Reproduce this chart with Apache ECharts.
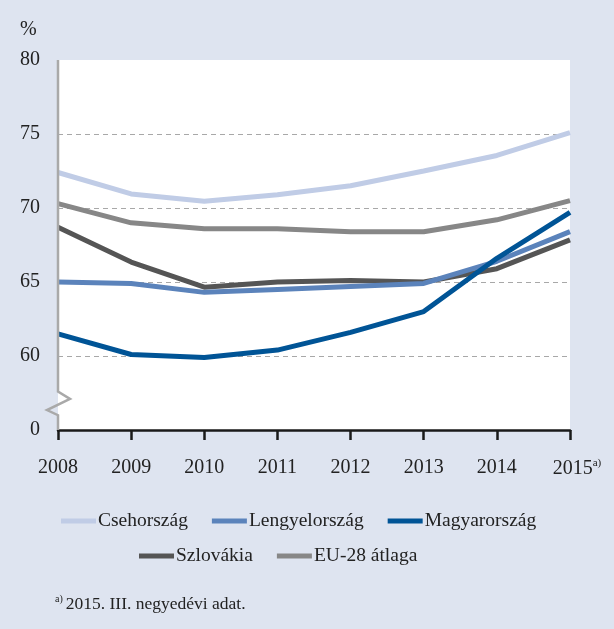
<!DOCTYPE html>
<html><head><meta charset="utf-8">
<script src="https://cdn.jsdelivr.net/npm/echarts@6/dist/echarts.min.js"></script>
<style>html,body{margin:0;padding:0;background:#dee4f0;}#c{width:614px;height:629px;}</style>
</head><body><div id="c"></div>
<script>
var years = ['2008','2009','2010','2011','2012','2013','2014','2015'];
var yTicks = [55,60,65,70,75,80];
var cseh = [72.4,70.95,70.45,70.9,71.5,72.5,73.55,75.1];
var lengyel = [65.0,64.9,64.3,64.5,64.7,64.9,66.4,68.4];
var magyar = [61.5,60.1,59.9,60.4,61.6,63.0,66.6,69.7];
var szlovak = [68.7,66.35,64.65,65.0,65.1,65.0,65.9,67.85];
var eu = [70.3,69.0,68.6,68.6,68.4,68.4,69.2,70.5];
var gridVals = [60,65,70,75];

var FONT = '"Liberation Serif","DejaVu Serif",serif';
var chart = echarts.init(document.getElementById('c'));
function ser(name, data, color, extra){
  var s = {name:name,type:'line',data:data,symbol:'none',smooth:false,
    lineStyle:{color:color,width:5},itemStyle:{color:color},z:3};
  if(extra) for (var k in extra) s[k]=extra[k];
  return s;
}
function graphics(extra){
  var g = [
    {type:'text',left:20,top:20,style:{text:'%',fontFamily:FONT,fontSize:20,fill:'#222'}},
    {type:'text',left:55,top:594,style:{text:'{s|a)}{t|2015. III. negyedévi adat.}',fill:'#222',
      rich:{t:{fontFamily:FONT,fontSize:17.5,fill:'#222'},s:{fontFamily:FONT,fontSize:10,fill:'#222',verticalAlign:'top',padding:[0,3,10,0]}}}}
  ];
  if (extra) g.push(extra);
  return g;
}
var option = {
  backgroundColor:'#dee4f0',
  animation:false,
  grid:{left:58,right:44,top:60,bottom:199,show:true,backgroundColor:'#ffffff',borderWidth:0},
  xAxis:{type:'category',data:years,boundaryGap:false,
    axisLine:{lineStyle:{color:'#1a1a1a',width:2.5}},
    axisTick:{show:true,interval:0,length:10,lineStyle:{color:'#1a1a1a',width:2.5}},
    axisLabel:{interval:0,color:'#222',fontFamily:FONT,fontSize:20,margin:28,
      formatter:function(v){return v==='2015'?'{z|2015}{s|a)}':'{y|'+v+'}';},
      rich:{y:{fontFamily:FONT,fontSize:20,color:'#222'},
            z:{fontFamily:FONT,fontSize:20,color:'#222',padding:[0,0,0,14]},
            s:{fontFamily:FONT,fontSize:11,color:'#222',verticalAlign:'top',padding:[0,0,10,0]}}},
    splitLine:{show:false}},
  yAxis:{type:'value',min:yTicks[0],max:yTicks[yTicks.length-1],interval:5,
    axisLine:{show:false},axisTick:{show:false},splitLine:{show:false},
    axisLabel:{color:'#222',fontFamily:FONT,fontSize:20,margin:18,
      formatter:function(v){return v===55?'0':String(v);}}},
  legend:[
    {data:['Csehország','Lengyelország','Magyarország'],left:56,top:506,itemWidth:35,itemHeight:5,itemGap:24,
     icon:'rect',textStyle:{fontFamily:FONT,fontSize:19.5,color:'#222',padding:[0,0,0,-3]}},
    {data:['Szlovákia','EU-28 átlaga'],left:134,top:541,itemWidth:35,itemHeight:5,itemGap:24,
     icon:'rect',textStyle:{fontFamily:FONT,fontSize:19.5,color:'#222',padding:[0,0,0,-3]}}
  ],
  series:[
    ser('Szlovákia', szlovak, '#555555', {markLine:{silent:true,symbol:'none',label:{show:false},
      lineStyle:{color:'#a8a8a8',type:[5,4],width:1},z:1,
      data:gridVals.map(function(v){return {yAxis:v};})}}),
    ser('EU-28 átlaga', eu, '#878787'),
    ser('Csehország', cseh, '#c0cce6'),
    ser('Lengyelország', lengyel, '#5b83bb'),
    ser('Magyarország', magyar, '#005496')
  ],
  graphic:graphics()
};
chart.setOption(option);
var pTop = chart.convertToPixel({xAxisIndex:0,yAxisIndex:0},[0,80]);
var p60 = chart.convertToPixel({xAxisIndex:0,yAxisIndex:0},[0,60]);
var p55 = chart.convertToPixel({xAxisIndex:0,yAxisIndex:0},[0,55]);
var x0 = pTop[0], h = p55[1]-p60[1];
var pts = [[x0,pTop[1]],[x0,p60[1]+h*0.48],[x0+12,p60[1]+h*0.58],[x0-11,p60[1]+h*0.73],[x0,p60[1]+h*0.80],[x0,p55[1]]];
chart.setOption({graphic:graphics({type:'polyline',z:10,shape:{points:pts},style:{stroke:'#a9a9a9',lineWidth:2.5,fill:null}})});
</script></body></html>
